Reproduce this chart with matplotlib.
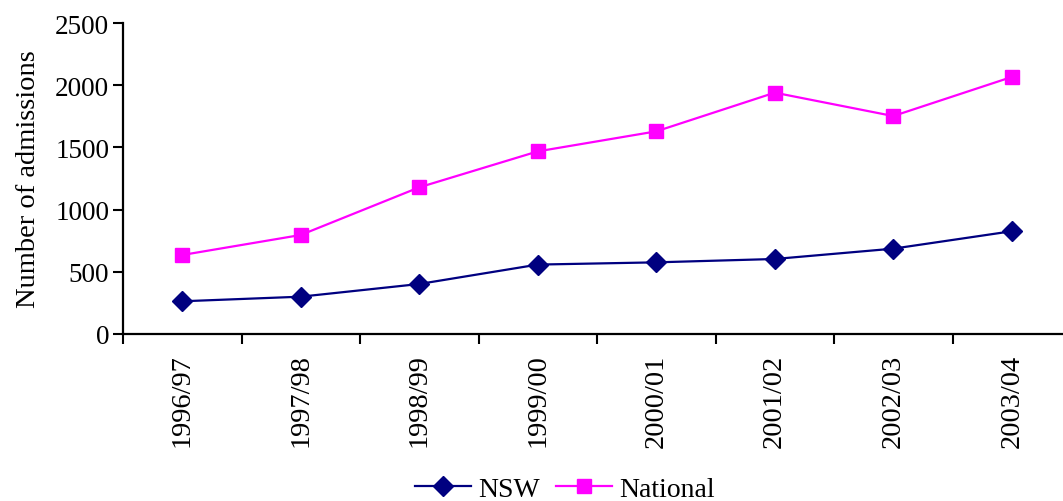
import numpy as np
import matplotlib
matplotlib.use('Agg')
import matplotlib.pyplot as plt
from matplotlib.ticker import FixedLocator, NullFormatter

plt.rcParams['font.family'] = ['Liberation Serif', 'DejaVu Serif']

years = ['1996/97', '1997/98', '1998/99', '1999/00', '2000/01', '2001/02', '2002/03', '2003/04']
nsw = [263, 300, 402, 558, 576, 603, 686, 826]
national = [635, 796, 1179, 1468, 1629, 1940, 1752, 2066]

fig = plt.figure(figsize=(10.63, 5.02), dpi=100)
ax = fig.add_axes([123 / 1063, 1 - 335 / 502, (1071 - 123) / 1063, (335 - 24) / 502])

x = np.arange(len(years))
ax.plot(x, nsw, color='#000080', lw=1.6, marker='D', markersize=10.5, label='NSW')
ax.plot(x, national, color='#FF00FF', lw=1.6, marker='s', markersize=10.5, label='National')

ax.set_xlim(-0.5, len(years) - 0.5)
ax.set_ylim(0, 2500)
ax.set_yticks(range(0, 2501, 500))
ax.set_xticks(x)
ax.set_xticklabels(years, rotation=90, fontsize=20.5)
ax.xaxis.set_minor_locator(FixedLocator(np.arange(-0.5, len(years), 1.0)))
ax.xaxis.set_minor_formatter(NullFormatter())
ax.tick_params(axis='x', which='major', length=0, pad=14)
ax.tick_params(axis='x', which='minor', length=7, width=1.5, direction='out')
ax.tick_params(axis='y', length=7, width=1.5, labelsize=19.5, pad=3)
ax.set_ylabel('Number of admissions', fontsize=20.5, labelpad=10)

for side in ['top', 'right']:
    ax.spines[side].set_visible(False)
for side in ['left', 'bottom']:
    ax.spines[side].set_linewidth(1.6)

fig.legend(loc='center', bbox_to_anchor=(565 / 1063, 1 - 490 / 502), ncol=2, frameon=False,
           fontsize=20, handlelength=2.0, handletextpad=0.25, columnspacing=0.6,
           borderaxespad=0)

fig.savefig('out.png', dpi=100)
